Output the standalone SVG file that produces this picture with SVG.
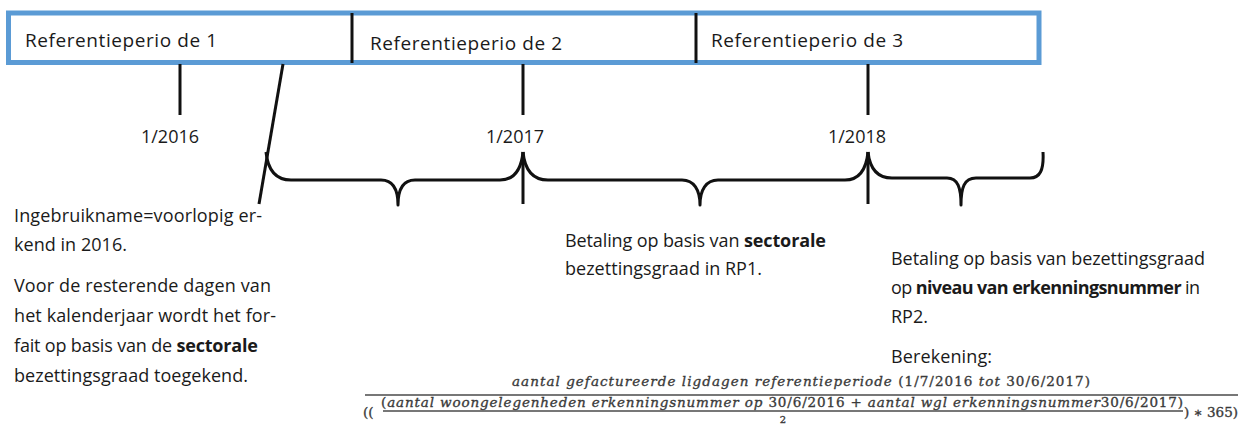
<svg xmlns="http://www.w3.org/2000/svg" width="1244" height="426" viewBox="0 0 1244 426">
<style>
.lbl{font-family:"Open Sans","Liberation Sans",sans-serif;fill:#1a1a1a}
.box{font-size:19px}
.date{font-size:18px}
.body{font-size:18px}
.b{font-weight:bold}
.blk{stroke:#111;stroke-width:3;fill:none}
.brace{stroke:#111;stroke-width:3;fill:none;stroke-linejoin:round}
.math{font-family:"DejaVu Serif","Liberation Serif",serif;font-size:13.5px;fill:#3a3a3a;stroke:#3a3a3a;stroke-width:0.35;font-style:italic}
.up{font-style:normal}
.bar{stroke:#4a4a4a;stroke-width:1.3}
</style>
<rect width="1244" height="426" fill="#fff"/>
<g id="periods">
  <rect x="8.5" y="13" width="1030.5" height="49.5" fill="#fff" stroke="#5b9bd5" stroke-width="5"/>
  <line class="blk" x1="352" y1="13" x2="352" y2="63"/>
  <line class="blk" x1="696" y1="13" x2="696" y2="63"/>
</g>
<g id="rp1"><text class="lbl box" x="25" y="47" textLength="192">Referentieperio de 1</text></g>
<g id="rp2"><text class="lbl box" x="370" y="49.5" textLength="192">Referentieperio de 2</text></g>
<g id="rp3"><text class="lbl box" x="711" y="47" textLength="192">Referentieperio de 3</text></g>
<g id="d2016">
  <line class="blk" x1="180" y1="64" x2="180" y2="115"/>
  <text class="lbl date" x="170" y="143" text-anchor="middle">1/2016</text>
</g>
<g id="d2017">
  <line class="blk" x1="523" y1="64" x2="523" y2="115"/>
  <text class="lbl date" x="515" y="143" text-anchor="middle">1/2017</text>
</g>
<g id="d2018">
  <line class="blk" x1="868" y1="64" x2="868" y2="115"/>
  <text class="lbl date" x="857" y="143" text-anchor="middle">1/2018</text>
</g>
<g id="connectors">
  <line class="blk" x1="283" y1="64" x2="259" y2="204"/>
  <line class="blk" x1="523" y1="152" x2="523" y2="204"/>
  <line class="blk" x1="868" y1="152" x2="868" y2="204"/>
  <path class="brace" d="M266,152 C268,172 277,180 291,180 L381,180 C393,180 398,190 398,205 C398,190 403,180 415,180 L500,180 C513,180 521,172 523,152"/>
  <path class="brace" d="M523,152 C525,172 534,180 548,180 L682,180 C694,180 700,190 700,205 C700,190 706,180 718,180 L845,180 C858,180 866,172 868,152"/>
  <path class="brace" d="M868,152 C870,170 878,178 892,178 L947,178 C958,178 961,188 961,205 C961,188 964,178 976,178 L1030,178 C1040,178 1044,170 1043,152"/>
</g>
<g id="note-left">
  <text class="lbl body" x="14" y="222" textLength="248">Ingebruikname=voorlopig er-</text>
  <text class="lbl body" x="14" y="251" textLength="113">kend in 2016.</text>
  <text class="lbl body" x="14" y="292" textLength="257">Voor de resterende dagen van</text>
  <text class="lbl body" x="14" y="322" textLength="262">het kalenderjaar wordt het for-</text>
  <text class="lbl body" x="14" y="352" textLength="244">fait op basis van de <tspan class="b">sectorale</tspan></text>
  <text class="lbl body" x="14" y="382" textLength="234">bezettingsgraad toegekend.</text>
</g>
<g id="note-middle">
  <text class="lbl body" x="565" y="247" textLength="261">Betaling op basis van <tspan class="b">sectorale</tspan></text>
  <text class="lbl body" x="565" y="275" textLength="197">bezettingsgraad in RP1.</text>
</g>
<g id="note-right">
  <text class="lbl body" x="891" y="265" textLength="314">Betaling op basis van bezettingsgraad</text>
  <text class="lbl body" x="891" y="294" textLength="309">op <tspan class="b">niveau van erkenningsnummer</tspan> in</text>
  <text class="lbl body" x="891" y="323">RP2.</text>
  <text class="lbl body" x="891" y="363" textLength="101">Berekening:</text>
</g>
<g id="formula">
  <text class="math" x="512" y="386" textLength="578">aantal gefactureerde ligdagen referentieperiode <tspan class="up">(1/7/2016</tspan> tot <tspan class="up">30/6/2017)</tspan></text>
  <line class="bar" x1="365" y1="395" x2="1238" y2="395"/>
  <text class="math up" x="363" y="417">((</text>
  <text class="math" x="381" y="407" textLength="802"><tspan class="up">(</tspan>aantal woongelegenheden erkenningsnummer op <tspan class="up">30/6/2016 +</tspan> aantal wgl erkenningsnummer<tspan class="up">30/6/2017)</tspan></text>
  <line class="bar" x1="383" y1="411" x2="1183" y2="411" stroke-width="1.1"/>
  <text class="math up" x="783" y="423" text-anchor="middle" style="font-size:10px">2</text>
  <text class="math up" x="1184" y="417" textLength="54">) ∗ 365)</text>
</g>
</svg>
